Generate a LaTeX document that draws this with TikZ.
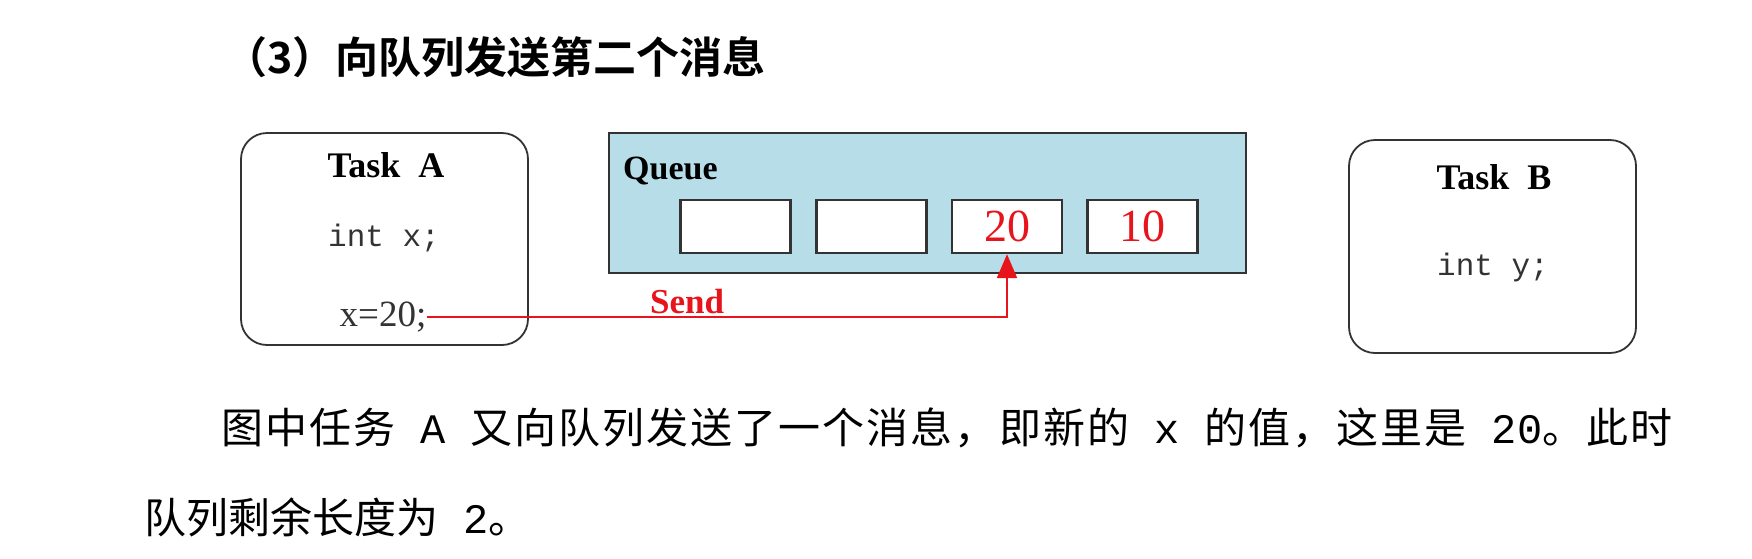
\documentclass[tikz,border=0pt]{standalone}
\usepackage{fontspec}
\usetikzlibrary{arrows.meta}
\setmainfont{Liberation Serif}
\newfontfamily\cjk{Noto Sans CJK SC}
\newfontfamily\cjkbold{Noto Sans CJK SC Bold}
\newfontfamily\cjkspaced[LetterSpace=4.8]{Noto Sans CJK SC}
\newfontfamily\monof{Liberation Mono}
\definecolor{queueblue}{HTML}{B7DDE8}
\definecolor{sendred}{HTML}{E8141C}
\definecolor{boxline}{HTML}{333333}
\tikzset{
  taskbox/.style={draw=boxline, line width=1.8pt, rounded corners=26pt, fill=white},
  queuebox/.style={draw=boxline, line width=2.6pt, fill=queueblue},
  cellbox/.style={draw=boxline, line width=2.4pt, fill=white, minimum width=110pt, minimum height=53pt, inner sep=0pt},
  boldlbl/.style={font=\fontsize{36}{40}\selectfont\bfseries, text=black, inner sep=0pt},
  codelbl/.style={font=\fontsize{31}{34}\monof, text=black!80, inner sep=0pt},
  redval/.style={font=\fontsize{46}{50}\selectfont, text=sendred, inner sep=0pt},
  sendarrow/.style={draw=sendred, line width=2.2pt, -{Triangle[length=24pt,width=20pt]}},
  para/.style={font=\fontsize{42}{48}\selectfont, anchor=west, inner sep=0pt}
}
\begin{document}
\begin{tikzpicture}[x=1pt,y=-1pt]
\useasboundingbox (0,0) rectangle (1752,558);
% title
\node[anchor=west, inner sep=0pt, font=\fontsize{43}{48}\cjkbold] (title) at (224,57) {（3）向队列发送第二个消息};
% Task A
\node[taskbox, minimum width=287pt, minimum height=212pt] (taskA) at (384.5,239) {};
\node[boldlbl] (taskAlbl) at (386,165) {Task\ \ A};
\node[codelbl] (intx) at (384,238) {int x;};
\node[font=\fontsize{37}{40}\selectfont, text=black!80, inner sep=0pt] (x20) at (383,317) {x=20;};
% Queue
\node[queuebox, minimum width=637pt, minimum height=140pt, inner sep=0pt] (queue) at (927.5,203) {};
\node[font=\fontsize{34}{38}\selectfont\bfseries, anchor=west, inner sep=0pt] (queuelbl) at (623,171) {Queue};
\node[cellbox] (c1) at (735.5,226.5) {};
\node[cellbox] (c2) at (871.5,226.5) {};
\node[cellbox] (c3) at (1007,226.5) {};
\node[cellbox] (c4) at (1142.5,226.5) {};
\node[redval] (v20) at (1007,226.5) {20};
\node[redval] (v10) at (1142.5,226.5) {10};
% Send arrow
\node[font=\fontsize{35}{38}\selectfont\bfseries, text=sendred, anchor=west, inner sep=0pt] (sendlbl) at (650,302) {Send};
\draw[sendarrow] (x20.east) -| (c3.south);
% Task B
\node[taskbox, minimum width=287pt, minimum height=213pt] (taskB) at (1492.5,246.5) {};
\node[boldlbl] (taskBlbl) at (1494,177) {Task\ \ B};
\node[codelbl] (inty) at (1493,267) {int y;};
% paragraph
\node[para] (line1) at (221,428) {\cjkspaced 图中任务{\monof\ A\ }又向队列发送了一个消息，即新的{\monof\ x\ }的值，这里是{\monof\ 20}。此时};
\node[para] (line2) at (144,517) {\cjk 队列剩余长度为{\monof\ 2}。};
\end{tikzpicture}
\end{document}
